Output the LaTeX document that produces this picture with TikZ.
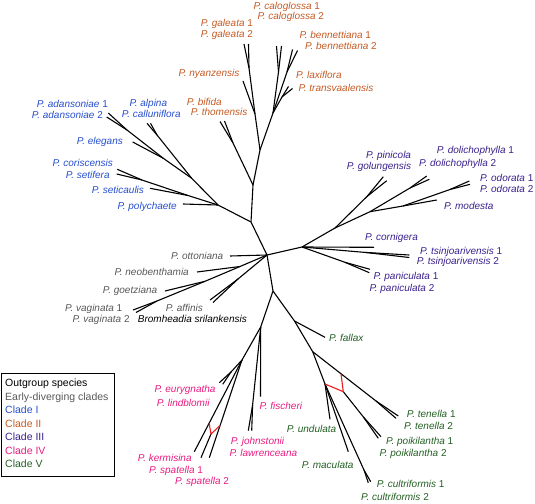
\documentclass[tikz,border=0pt]{standalone}
\usepackage{fontspec}
\setmainfont{Liberation Sans}
\usetikzlibrary{calc}
\definecolor{cgray}{RGB}{88,88,88}
\definecolor{cblue}{RGB}{38,78,205}
\definecolor{corange}{RGB}{196,90,35}
\definecolor{cpurple}{RGB}{58,32,140}
\definecolor{cmagenta}{RGB}{232,28,128}
\definecolor{cgreen}{RGB}{35,95,35}
\definecolor{cred}{RGB}{232,30,30}
\begin{document}
\begin{tikzpicture}[x=1pt,y=-1pt,
  br/.style={line width=1.1pt},
  hy/.style={line width=1.1pt,draw=cred},
  lab/.style={anchor=base west,inner sep=0pt,font=\fontsize{10}{12}\selectfont},
  og/.style={lab,text=black},
  ed/.style={lab,text=cgray},
  c1/.style={lab,text=cblue},
  c2/.style={lab,text=corange},
  c3/.style={lab,text=cpurple},
  c4/.style={lab,text=cmagenta},
  c5/.style={lab,text=cgreen},
  legtext/.style={anchor=base west,inner sep=0pt,font=\fontsize{10.5}{12}\selectfont}]
\useasboundingbox (0,0) rectangle (535,503);
% ---------- coordinates ----------
\coordinate (C) at (267,255);
% early-diverging + outgroup
\coordinate (ot) at (230,256);
\coordinate (nb0) at (240,266.5);
\coordinate (nb) at (197,272);
\coordinate (go0) at (205,281.3);
\coordinate (go) at (165,291);
\coordinate (v0) at (157,301);
\coordinate (va1) at (133,310);
\coordinate (va2) at (136,312.5);
\coordinate (af0) at (238,279);
\coordinate (af1) at (210,300);
\coordinate (af2) at (213,302.5);
% clades I + II
\coordinate (A) at (251,222);
\coordinate (B) at (253,185);
\coordinate (F) at (218,205);
% clade II
\coordinate (G) at (260,150);
\coordinate (bt0) at (233,143);
\coordinate (bt1) at (220,121.5);
\coordinate (bt2) at (224.5,121);
\coordinate (N1) at (255,114);
\coordinate (ny) at (243,81);
\coordinate (ga0) at (249,68);
\coordinate (ga1) at (244,44);
\coordinate (ga2) at (248.5,44);
\coordinate (H) at (273,113);
\coordinate (cg0) at (278.5,72);
\coordinate (cg1) at (276.5,46);
\coordinate (cg2) at (281.5,46);
\coordinate (bn0) at (287,72);
\coordinate (bn1) at (292.5,49.5);
\coordinate (bn2) at (297.5,50.5);
\coordinate (lx0) at (282,97);
\coordinate (lx1) at (288.5,86.5);
\coordinate (lx2) at (292.5,88.5);
% clade I
\coordinate (po) at (183,204);
\coordinate (J) at (188,195.5);
\coordinate (st) at (150,188.3);
\coordinate (cs0) at (142,180);
\coordinate (cs1) at (117.3,169.3);
\coordinate (cs2) at (116.7,174);
\coordinate (K) at (191.7,178.3);
\coordinate (al0) at (157,135);
\coordinate (al1) at (147,123.3);
\coordinate (al2) at (150.5,123.3);
\coordinate (L) at (163.3,158.3);
\coordinate (el) at (132.7,142);
\coordinate (ad0) at (127,130);
\coordinate (ad1) at (108.3,113);
\coordinate (ad2) at (106.7,117);
% clade III
\coordinate (D) at (302,247);
\coordinate (M) at (335,228);
\coordinate (pg0) at (367,196.5);
\coordinate (pg1) at (383.3,176.7);
\coordinate (pg2) at (386.7,180.7);
\coordinate (N) at (370,211.7);
\coordinate (do0) at (410,188);
\coordinate (do1) at (426.7,176);
\coordinate (do2) at (429.3,179.3);
\coordinate (O) at (403,206);
\coordinate (mo) at (436.7,200);
\coordinate (od0) at (450,189.5);
\coordinate (od1) at (469.3,181);
\coordinate (od2) at (470,184.3);
\coordinate (co) at (374,247.3);
\coordinate (ts0) at (365,252.4);
\coordinate (ts1) at (409.3,255);
\coordinate (ts2) at (409.3,257.5);
\coordinate (pa0) at (345,262.3);
\coordinate (pa1) at (370,269.3);
\coordinate (pa2) at (369.3,272.7);
% lower part
\coordinate (E) at (273,291);
\coordinate (P) at (260.7,327);
\coordinate (fi) at (260.5,396.7);
\coordinate (jo0) at (252.6,405);
\coordinate (jo1) at (248.3,430.7);
\coordinate (jo2) at (251.7,430.7);
\coordinate (S) at (242,360);
\coordinate (eu0) at (231,372);
\coordinate (eu1) at (219.3,382.7);
\coordinate (eu2) at (222.7,384.3);
\coordinate (ke) at (194.3,451.7);
\coordinate (sp1) at (201,457.7);
\coordinate (sp2) at (209.3,457.7);
\coordinate (X2) at (211,434);
\coordinate (rk) at ($(S)!0.69!(ke)$);
\coordinate (rs) at ($(S)!0.67!(sp2)$);
% clade V
\coordinate (Q) at (294.5,321);
\coordinate (fa) at (325,337.3);
\coordinate (T) at (312.7,351.7);
\coordinate (te0) at (376,401);
\coordinate (te1) at (398.3,416);
\coordinate (te2) at (396,418.3);
\coordinate (rt) at ($(T)!0.447!(te0)$);
\coordinate (U) at (325,384);
\coordinate (X) at (343.3,391.7);
\coordinate (pk0) at (363.4,417);
\coordinate (pk1) at (381,436.7);
\coordinate (pk2) at (378.3,438.3);
\coordinate (un) at (330,419.3);
\coordinate (mc) at (348.3,451.7);
\coordinate (cu0) at (364,470);
\coordinate (cu1) at (370.7,481.7);
\coordinate (cu2) at (368.3,482.7);
% ---------- branches ----------
\draw[br] (C) -- (ot);
\draw[br] (C) -- (nb0) -- (go0) -- (v0) -- (va1);
\draw[br] (v0) -- (va2);
\draw[br] (nb0) -- (nb);
\draw[br] (go0) -- (go);
\draw[br] (C) -- (af0) -- (af1);
\draw[br] (af0) -- (af2);
\draw[br] (C) -- (A) -- (B) -- (G) -- (N1) -- (ga0) -- (ga1);
\draw[br] (ga0) -- (ga2);
\draw[br] (N1) -- (ny);
\draw[br] (B) -- (bt0) -- (bt1);
\draw[br] (bt0) -- (bt2);
\draw[br] (G) -- (H) -- (cg0) -- (cg1);
\draw[br] (cg0) -- (cg2);
\draw[br] (H) -- (bn0) -- (bn1);
\draw[br] (bn0) -- (bn2);
\draw[br] (H) -- (lx0) -- (lx1);
\draw[br] (lx0) -- (lx2);
\draw[br] (A) -- (F) -- (po);
\draw[br] (F) -- (J) -- (st);
\draw[br] (J) -- (cs0) -- (cs1);
\draw[br] (cs0) -- (cs2);
\draw[br] (F) -- (K) -- (L) -- (ad0) -- (ad1);
\draw[br] (ad0) -- (ad2);
\draw[br] (L) -- (el);
\draw[br] (K) -- (al0) -- (al1);
\draw[br] (al0) -- (al2);
\draw[br] (C) -- (D) -- (M) -- (pg0) -- (pg1);
\draw[br] (pg0) -- (pg2);
\draw[br] (M) -- (N) -- (do0) -- (do1);
\draw[br] (do0) -- (do2);
\draw[br] (N) -- (O) -- (mo);
\draw[br] (O) -- (od0) -- (od1);
\draw[br] (od0) -- (od2);
\draw[br] (D) -- (co);
\draw[br] (D) -- (ts0) -- (ts1);
\draw[br] (ts0) -- (ts2);
\draw[br] (D) -- (pa0) -- (pa1);
\draw[br] (pa0) -- (pa2);
\draw[br] (C) -- (E) -- (P) -- (S);
\draw[br] (P) -- (fi);
\draw[br] (P) -- (jo0) -- (jo1);
\draw[br] (jo0) -- (jo2);
\draw[br] (S) -- (eu0) -- (eu1);
\draw[br] (eu0) -- (eu2);
\draw[br] (S) -- (ke);
\draw[br] (S) -- (sp2);
\draw[br] (X2) -- (sp1);
\draw[hy] (rk) -- (X2) -- (rs);
\draw[br] (E) -- (Q) -- (fa);
\draw[br] (Q) -- (T) -- (te0) -- (te1);
\draw[br] (te0) -- (te2);
\draw[br] (T) -- (U) -- (un);
\draw[br] (U) -- (mc);
\draw[br] (U) -- (cu0) -- (cu1);
\draw[br] (cu0) -- (cu2);
\draw[br] (X) -- (pk0) -- (pk1);
\draw[br] (pk0) -- (pk2);
\draw[hy] (U) -- (X) -- (rt);
% ---------- labels ----------
% clade II
\node[c2] (Lcg1) at (253.3,9.1) {\textit{P. caloglossa} 1};
\node[c2] (Lcg2) at (257.3,19.1) {\textit{P. caloglossa} 2};
\node[c2] (Lga1) at (200.7,26.9) {\textit{P. galeata} 1};
\node[c2] (Lga2) at (200.7,37.6) {\textit{P. galeata} 2};
\node[c2] (Lbn1) at (299.3,38.3) {\textit{P. bennettiana} 1};
\node[c2] (Lbn2) at (305,49.6) {\textit{P. bennettiana} 2};
\node[c2] (Lny) at (178.3,76.3) {\textit{P. nyanzensis}};
\node[c2] (Llx) at (296,78.6) {\textit{P. laxiflora}};
\node[c2] (Ltv) at (298.3,91.9) {\textit{P. transvaalensis}};
\node[c2] (Lbi) at (186.7,105.3) {\textit{P. bifida}};
\node[c2] (Lth) at (190.7,115.3) {\textit{P. thomensis}};
% clade I
\node[c1] (Lad1) at (36.7,107.9) {\textit{P. adansoniae} 1};
\node[c1] (Lad2) at (31.7,118.9) {\textit{P. adansoniae} 2};
\node[c1] (Lal) at (129.3,106.9) {\textit{P. alpina}};
\node[c1] (Lca) at (121.7,117.3) {\textit{P. calluniflora}};
\node[c1] (Lel) at (76.7,144.9) {\textit{P. elegans}};
\node[c1] (Lco) at (52.3,166.9) {\textit{P. coriscensis}};
\node[c1] (Lse) at (65.7,178.3) {\textit{P. setifera}};
\node[c1] (Lsc) at (91.7,193.6) {\textit{P. seticaulis}};
\node[c1] (Lpo) at (117.3,209.6) {\textit{P. polychaete}};
% clade III
\node[c3] (Lpi) at (366,158.6) {\textit{P. pinicola}};
\node[c3] (Lgo) at (346.7,169.3) {\textit{P. golungensis}};
\node[c3] (Ldo1) at (436.7,153.6) {\textit{P. dolichophylla} 1};
\node[c3] (Ldo2) at (419,166.9) {\textit{P. dolichophylla} 2};
\node[c3] (Lod1) at (480,181.9) {\textit{P. odorata} 1};
\node[c3] (Lod2) at (480,192.6) {\textit{P. odorata} 2};
\node[c3] (Lmo) at (444,209.6) {\textit{P. modesta}};
\node[c3] (Lcn) at (365,240.9) {\textit{P. cornigera}};
\node[c3] (Lts1) at (420,254.3) {\textit{P. tsinjoarivensis} 1};
\node[c3] (Lts2) at (416.7,264.6) {\textit{P. tsinjoarivensis} 2};
\node[c3] (Lpa1) at (373.3,279.6) {\textit{P. paniculata} 1};
\node[c3] (Lpa2) at (369.3,291.9) {\textit{P. paniculata} 2};
% early-diverging + outgroup
\node[ed] (Lot) at (171,259.6) {\textit{P. ottoniana}};
\node[ed] (Lnb) at (114.3,275.9) {\textit{P. neobenthamia}};
\node[ed] (Lgz) at (102.7,293.6) {\textit{P. goetziana}};
\node[ed] (Lva1) at (65,311.9) {\textit{P. vaginata} 1};
\node[ed] (Lva2) at (72.3,322.9) {\textit{P. vaginata} 2};
\node[ed] (Laf) at (165.7,311.9) {\textit{P. affinis}};
\node[og] (Lbr) at (137.7,322.9) {\textit{Bromheadia srilankensis}};
% clade IV
\node[c4] (Leu) at (154.3,392.9) {\textit{P. eurygnatha}};
\node[c4] (Lli) at (156.7,406.3) {\textit{P. lindblomii}};
\node[c4] (Lfi) at (259.3,409.6) {\textit{P. fischeri}};
\node[c4] (Ljo) at (230.7,444.6) {\textit{P. johnstonii}};
\node[c4] (Lla) at (229.3,456.3) {\textit{P. lawrenceana}};
\node[c4] (Lke) at (137.7,461.3) {\textit{P. kermisina}};
\node[c4] (Lsp1) at (149,473.6) {\textit{P. spatella} 1};
\node[c4] (Lsp2) at (175,484.6) {\textit{P. spatella} 2};
% clade V
\node[c5] (Lfa) at (329,341.3) {\textit{P. fallax}};
\node[c5] (Lte1) at (406.7,417.6) {\textit{P. tenella} 1};
\node[c5] (Lte2) at (404,429.6) {\textit{P. tenella} 2};
\node[c5] (Lpk1) at (386,444.6) {\textit{P. poikilantha} 1};
\node[c5] (Lpk2) at (379.3,456.9) {\textit{P. poikilantha} 2};
\node[c5] (Lun) at (286.7,432.9) {\textit{P. undulata}};
\node[c5] (Lmc) at (301.7,468.6) {\textit{P. maculata}};
\node[c5] (Lcu1) at (376.7,487.6) {\textit{P. cultriformis} 1};
\node[c5] (Lcu2) at (361,500.3) {\textit{P. cultriformis} 2};
% ---------- legend ----------
\node[draw,line width=0.9pt,anchor=north west,minimum width=113pt,minimum height=103pt,inner sep=0pt] (legend) at (1,373) {};
\node[legtext,text=black] (g1) at (5,386.5) {Outgroup species};
\node[legtext,text=cgray] (g2) at (5,400.5) {Early-diverging clades};
\node[legtext,text=cblue] (g3) at (5,413.8) {Clade I};
\node[legtext,text=corange] (g4) at (5,427.1) {Clade II};
\node[legtext,text=cpurple] (g5) at (5,440.5) {Clade III};
\node[legtext,text=cmagenta] (g6) at (5,454.5) {Clade IV};
\node[legtext,text=cgreen] (g7) at (5,467.8) {Clade V};
\end{tikzpicture}
\end{document}
